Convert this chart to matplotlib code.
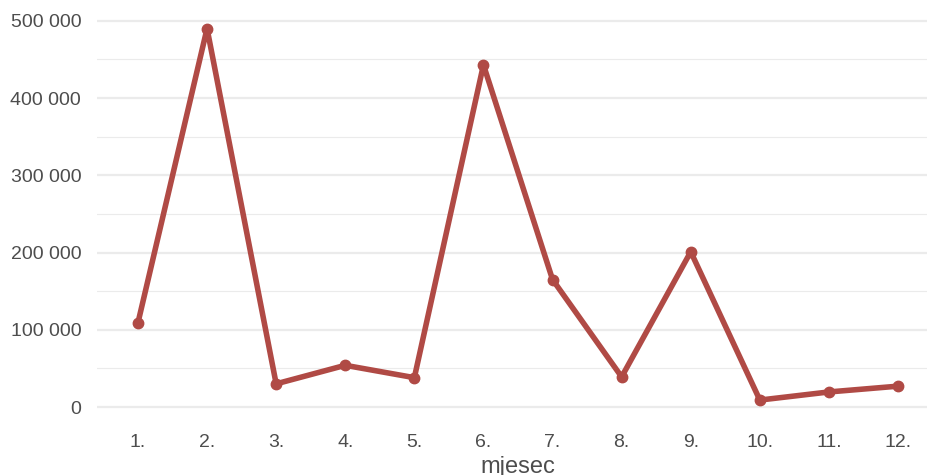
import numpy as np
import matplotlib.pyplot as plt
from matplotlib.ticker import FuncFormatter, MultipleLocator

# monthly values
months = list(range(1, 13))
month_labels = [f"{m}." for m in months]
values = [109000, 490000, 30000, 54000, 38000, 443000,
          165000, 39000, 201000, 9000, 19500, 27000]

line_color = "#b04a45"
text_color = "#4d4d4d"
grid_color = "#ebebeb"

plt.rcParams['font.family'] = ['Liberation Sans', 'DejaVu Sans']

fig = plt.figure(figsize=(9.27, 4.75), dpi=100)
W, H = 927, 475
# panel runs a little past the right edge, as in the reference
left, right = 96.5, 939.5
top, bottom = 10, 418.6
ax = fig.add_axes([left / W, 1 - bottom / H, (right - left) / W, (bottom - top) / H])

ax.plot(months, values, color=line_color, lw=4, marker='o', ms=7.5,
        solid_capstyle='round', solid_joinstyle='round', zorder=3)

ax.set_xlim(0.4, 12.6)
ax.set_ylim(-15000, 514000)

ax.set_xticks(months)
ax.set_xticklabels(month_labels)
ax.yaxis.set_major_locator(MultipleLocator(100000))
ax.yaxis.set_minor_locator(MultipleLocator(50000))
ax.yaxis.set_major_formatter(FuncFormatter(lambda v, p: f"{int(v):,}".replace(",", " ")))

ax.grid(axis='y', which='major', color=grid_color, lw=1.6, zorder=0)
ax.grid(axis='y', which='minor', color=grid_color, lw=0.8, zorder=0)
for s in ax.spines.values():
    s.set_visible(False)
ax.tick_params(axis='both', which='both', length=0, labelsize=14, colors=text_color)
ax.tick_params(axis='x', pad=11)
ax.tick_params(axis='y', pad=11)

ax.set_xlabel("mjesec", fontsize=17, color=text_color, labelpad=4)

fig.savefig("out.png", dpi=100)
